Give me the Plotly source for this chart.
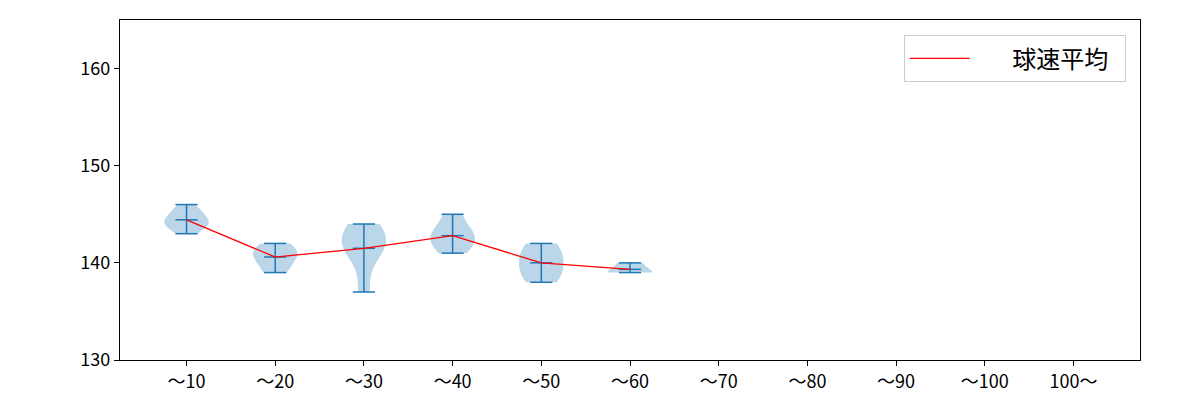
import numpy as np
import plotly.graph_objects as go

categories = ["〜10", "〜20", "〜30", "〜40", "〜50", "〜60", "〜70", "〜80", "〜90", "〜100", "100〜"]
# pitch speed samples (km/h) per category
speeds = [
    [143, 144, 144, 144, 145, 145, 146],
    [139, 140, 141, 141, 142],
    [137, 141, 142, 142, 143, 144],
    [141, 142, 143, 143, 145],
    [138, 139, 140, 141, 142],
    [139, 139, 140],
    [], [], [], [], [],
]
y_ticks = [130, 140, 150, 160]
legend_label = "球速平均"

blue = "#1f77b4"
positions = list(range(1, len(categories) + 1))

fig = go.Figure()

mean_x, mean_y = [], []
for pos, vals in zip(positions, speeds):
    if len(vals) == 0:
        continue
    arr = np.array(vals, dtype=float)
    bw = arr.std(ddof=1) * len(arr) ** (-0.2)
    fig.add_trace(go.Violin(
        x=[pos] * len(arr), y=arr, width=0.5, spanmode="hard", bandwidth=bw,
        fillcolor="rgba(31,119,180,0.3)", line=dict(width=0, color="rgba(0,0,0,0)"),
        points=False, box_visible=False, meanline_visible=False,
        scalemode="width", showlegend=False, hoverinfo="skip",
    ))
    mn, mx, me = arr.min(), arr.max(), arr.mean()
    mean_x.append(pos)
    mean_y.append(me)
    fig.add_trace(go.Scatter(x=[pos, pos], y=[mn, mx], mode="lines",
                             line=dict(color=blue, width=1.5), showlegend=False, hoverinfo="skip"))
    for v in (mn, mx, me):
        fig.add_trace(go.Scatter(x=[pos - 0.125, pos + 0.125], y=[v, v], mode="lines",
                                 line=dict(color=blue, width=1.5), showlegend=False, hoverinfo="skip"))

fig.add_trace(go.Scatter(x=mean_x, y=mean_y, mode="lines", name="       " + legend_label + "  ",
                         line=dict(color="red", width=1.3)))

fig.update_layout(
    width=1200, height=400,
    margin=dict(l=120, r=60, t=20, b=40),
    paper_bgcolor="white", plot_bgcolor="white",
    font=dict(family="Noto Sans CJK JP", size=18, color="black"),
    violinmode="overlay",
    legend=dict(x=0.986, y=0.955, xanchor="right", yanchor="top",
                bgcolor="white", bordercolor="#cccccc", borderwidth=1,
                font=dict(size=24), itemwidth=60),
)
fig.update_xaxes(range=[0.25, 11.75], tickvals=positions, ticktext=categories, automargin=False,
                 showline=True, linecolor="black", linewidth=1.2, mirror=True,
                 ticks="outside", ticklen=5, tickcolor="black", showgrid=False, zeroline=False)
fig.update_yaxes(range=[130, 165], tickvals=y_ticks, automargin=False,
                 showline=True, linecolor="black", linewidth=1.2, mirror=True,
                 ticks="outside", ticklen=5, tickcolor="black", showgrid=False, zeroline=False)

fig.write_html("out.html")
